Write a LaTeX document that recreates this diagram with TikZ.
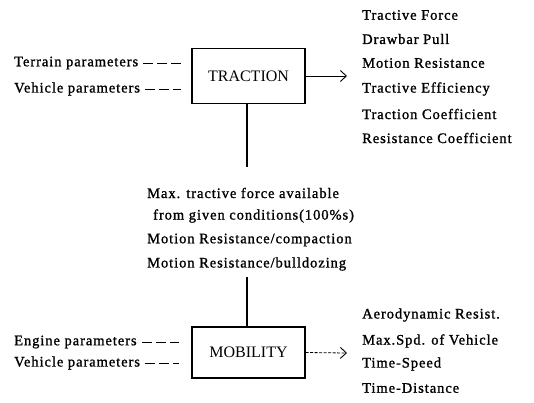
\documentclass[tikz,border=0pt]{standalone}
\usepackage{fontspec}
\setmainfont{Liberation Serif}
\newfontfamily\widefont[LetterSpace=6.5,FakeBold=1.2]{Liberation Serif}
\usetikzlibrary{arrows.meta}
\begin{document}
\begin{tikzpicture}[x=1pt,y=-1pt,
  lbl/.style={anchor=west,inner sep=0pt,font=\widefont\fontsize{14.5}{16}\selectfont},
  boxnode/.style={draw,line width=1.4pt,minimum width=113pt,minimum height=55pt,inner sep=0pt,font=\fontsize{16}{18}\selectfont},
  dsh/.style={line width=0.8pt,dash pattern=on 10pt off 4pt},
  vline/.style={line width=2.4pt},
  outarrow/.style={line width=0.8pt,-{Straight Barb[length=6pt,width=11pt,line width=0.9pt]}}
]
\useasboundingbox (0,0) rectangle (534,402);
% TRACTION
\node[boxnode] (tr) at (248.5,76) {TRACTION};
\node[lbl] (tp) at (14,63) {Terrain parameters};
\node[lbl] (vp1) at (14,89) {Vehicle parameters};
\coordinate (tpe) at (181,63);
\coordinate (vp1e) at (181,89);
\draw[dsh] ([xshift=5pt]tp.east|-tpe) -- (tpe);
\draw[dsh] ([xshift=5pt]vp1.east|-vp1e) -- (vp1e);
\coordinate (tra) at (347,76);
\draw[outarrow] (tr.east) -- (tra);
\node[lbl] (r1) at (362,15) {Tractive Force};
\node[lbl] (r2) at (362,39) {Drawbar Pull};
\node[lbl] (r3) at (362,63) {Motion Resistance};
\node[lbl] (r4) at (362,89) {Tractive Efficiency};
\node[lbl] (r5) at (362,114) {Traction Coefficient};
\node[lbl] (r6) at (362,138) {Resistance Coefficient};
% middle
\coordinate (c1) at (247,167);
\draw[vline] (tr.south-|c1) -- (c1);
\node[lbl] (m1) at (147,193) {Max. tractive force available};
\node[lbl] (m2) at (153,216) {from given conditions(100\%s)};
\node[lbl] (m3) at (147,240) {Motion Resistance/compaction};
\node[lbl] (m4) at (147,264) {Motion Resistance/bulldozing};
% MOBILITY
\node[boxnode,minimum height=51pt] (mob) at (248.5,352.5) {MOBILITY};
\coordinate (c2) at (247,277);
\draw[vline] (c2) -- (mob.north-|c2);
\node[lbl] (ep) at (14,342) {Engine parameters};
\node[lbl] (vp2) at (14,363) {Vehicle parameters};
\coordinate (epe) at (179,342);
\coordinate (vp2e) at (179,363);
\draw[dsh] ([xshift=5pt]ep.east|-epe) -- (epe);
\draw[dsh] ([xshift=5pt]vp2.east|-vp2e) -- (vp2e);
\coordinate (moa) at (347,353);
\draw[outarrow,dash pattern=on 3pt off 1.5pt] (mob.east) -- (moa);
\node[lbl] (s1) at (362,315) {Aerodynamic Resist.};
\node[lbl] (s2) at (362,341) {Max.Spd. of Vehicle};
\node[lbl] (s3) at (362,364) {Time-Speed};
\node[lbl] (s4) at (362,388) {Time-Distance};
\end{tikzpicture}
\end{document}
